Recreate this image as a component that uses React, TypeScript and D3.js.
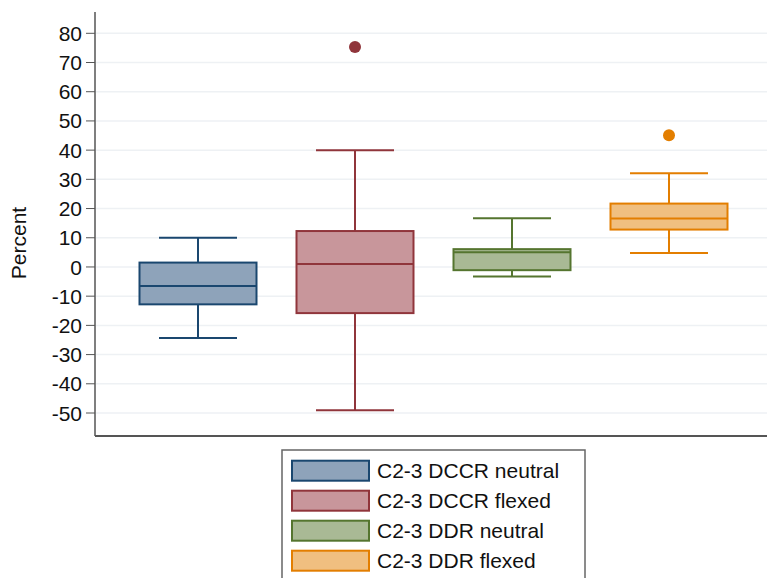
import React from "react";
import * as d3 from "d3";

const groups = ["C2-3 DCCR neutral", "C2-3 DCCR flexed", "C2-3 DDR neutral", "C2-3 DDR flexed"];
const whiskerLow = [-24.3, -49.1, -3.3, 4.8];
const q1 = [-12.8, -15.8, -1.1, 12.8];
const median = [-6.5, 1.0, 5.0, 16.6];
const q3 = [1.5, 12.3, 6.1, 21.7];
const whiskerHigh = [10, 40, 16.7, 32.1];
const outliers: number[][] = [[], [75.3], [], [45.1]];
const yTicks = [80, 70, 60, 50, 40, 30, 20, 10, 0, -10, -20, -30, -40, -50];

const strokes = ["#1a476f", "#90353b", "#55752f", "#e37e00"];
const fills = ["#8ea3ba", "#c8969b", "#a9b995", "#f0bf80"];

export default function App() {
  const W = 767, H = 578;
  const left = 95, top = 12, bottom = 436, right = 767;
  const y = d3.scaleLinear().domain([-50, 80]).range([413, 33.3]);
  const x = d3.scalePoint<string>().domain(groups).range([198, 669]);
  const bw = 117;
  const capW = 78;
  return (
    <svg width={W} height={H} style={{ position: "absolute", left: 0, top: 0, background: "#fff" }}
      fontFamily="'Liberation Sans', Arial, sans-serif">
      {yTicks.map((t) => (
        <g key={t}>
          <line x1={left + 1} x2={right} y1={y(t)} y2={y(t)} stroke="#eef1f4" strokeWidth={1.5} />
          <line x1={86} x2={left} y1={y(t)} y2={y(t)} stroke="#555" strokeWidth={1} />
          <text x={82} y={y(t)} dy="0.36em" textAnchor="end" fontSize={21} fill="#111">{t}</text>
        </g>
      ))}
      <line x1={left} x2={left} y1={top} y2={bottom} stroke="#555" strokeWidth={1.5} />
      <line x1={left} x2={right} y1={bottom} y2={bottom} stroke="#555" strokeWidth={2} />
      <text transform={`translate(26,243) rotate(-90)`} textAnchor="middle" fontSize={21} fill="#111">Percent</text>
      {groups.map((g, i) => {
        const cx = x(g) as number;
        const s = strokes[i];
        return (
          <g key={g}>
            <line x1={cx} x2={cx} y1={y(whiskerHigh[i])} y2={y(q3[i])} stroke={s} strokeWidth={2} />
            <line x1={cx} x2={cx} y1={y(q1[i])} y2={y(whiskerLow[i])} stroke={s} strokeWidth={2} />
            <line x1={cx - capW / 2} x2={cx + capW / 2} y1={y(whiskerHigh[i])} y2={y(whiskerHigh[i])} stroke={s} strokeWidth={2} />
            <line x1={cx - capW / 2} x2={cx + capW / 2} y1={y(whiskerLow[i])} y2={y(whiskerLow[i])} stroke={s} strokeWidth={2} />
            <rect x={cx - bw / 2} width={bw} y={y(q3[i])} height={y(q1[i]) - y(q3[i])} fill={fills[i]} stroke={s} strokeWidth={2} />
            <line x1={cx - bw / 2} x2={cx + bw / 2} y1={y(median[i])} y2={y(median[i])} stroke={s} strokeWidth={2} />
            {outliers[i].map((o, k) => (
              <circle key={k} cx={cx} cy={y(o)} r={6} fill={s} />
            ))}
          </g>
        );
      })}
      <rect x={282} y={450} width={303} height={140} fill="#fff" stroke="#666" strokeWidth={1.5} />
      {groups.map((g, i) => (
        <g key={g} transform={`translate(0,${460.7 + i * 30})`}>
          <rect x={292} y={0} width={77} height={20} fill={fills[i]} stroke={strokes[i]} strokeWidth={2} />
          <text x={377} y={10} dy="0.36em" fontSize={21} fill="#111">{g}</text>
        </g>
      ))}
    </svg>
  );
}
